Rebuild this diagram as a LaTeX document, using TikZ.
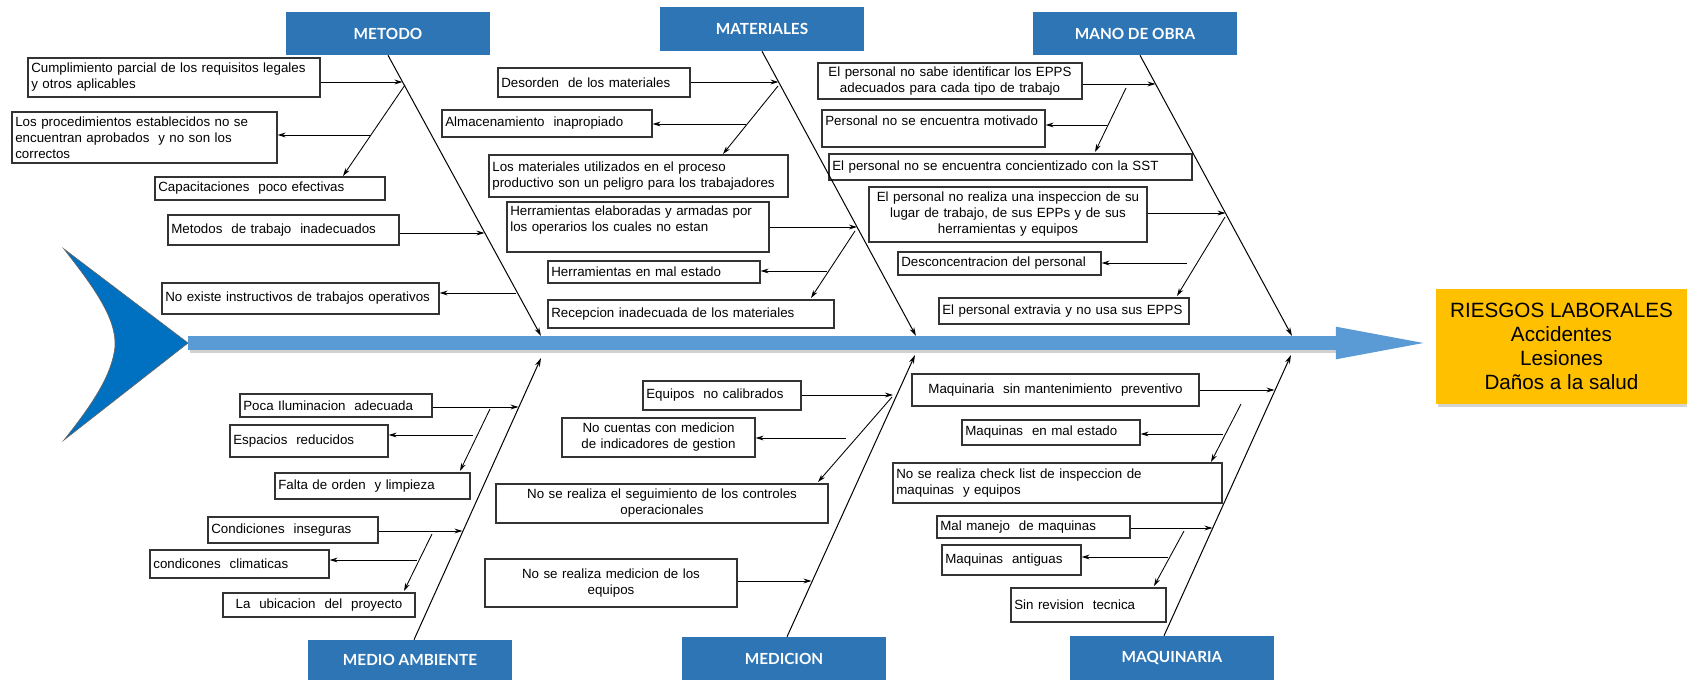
\documentclass[tikz,border=0pt]{standalone}
\usepackage{fontspec}
\setmainfont{Liberation Sans}
\newfontfamily\catfont{Lato}
\usetikzlibrary{arrows.meta,shadows}
\definecolor{catblue}{HTML}{2E75B6}
\definecolor{tailblue}{HTML}{0070C0}
\definecolor{spineblue}{HTML}{5B9BD5}
\definecolor{resorange}{HTML}{FFC000}
\tikzset{
  box/.style={draw=black!80, line width=0.9pt, fill=white, inner xsep=2.5pt, inner ysep=0.5pt,
    font=\fontsize{10}{12}\selectfont, align=left,
    execute at begin node={\hyphenpenalty=10000\exhyphenpenalty=10000}},
  cbox/.style={box, align=center},
  cat/.style={fill=catblue, text=white, minimum width=153pt, inner sep=0pt,
    font=\catfont\bfseries\fontsize{11.5}{13}\selectfont},
  bone/.style={line width=0.75pt, -{Stealth[length=6.5pt,width=3.8pt,inset=2pt]}},
  twig/.style={line width=0.65pt, -{Stealth[length=6pt,width=3.6pt,inset=2pt]}},
  spine/.style={line width=10.5pt, draw=spineblue, -{Triangle[length=75pt,width=21pt]}},
}
\begin{document}
\begin{tikzpicture}[x=0.75pt,y=-0.75pt]
\useasboundingbox (0,0) rectangle (1687,680);

% tail
\filldraw[fill=tailblue, draw=black!60, line width=0.5pt]
  (64,249) -- (188,343) -- (64,440)
  .. controls (92,405) and (112,375) .. (115,347)
  .. controls (117,318) and (92,285) .. (64,249) -- cycle;

% result box
\node[fill=resorange, minimum width=188.25pt, minimum height=86.25pt, inner sep=0pt,
  align=center, font=\fontsize{15.5}{18}\selectfont,
  drop shadow={shadow xshift=1.5pt, shadow yshift=-2.5pt, opacity=0.35}]
  (res) at (1561.5,346.5) {RIESGOS LABORALES\\Accidentes\\Lesiones\\Daños a la salud};

% spine
\coordinate (sp) at (188,343);
\draw[line width=10.5pt, black, opacity=0.18] (190,346) -- (1338,346);
\draw[spine] (sp) -- (sp -| res.west);

% category boxes
\node[cat, minimum height=32.25pt] (catMet) at (388,33.5) {METODO};
\node[cat, minimum height=33pt] (catMat) at (762,29) {MATERIALES};
\node[cat, minimum height=32.25pt] (catMO) at (1135,33.5) {MANO DE OBRA};
\node[cat, minimum height=30pt] (catMA) at (410,660) {MEDIO AMBIENTE};
\node[cat, minimum height=32.25pt] (catMe) at (784,658.5) {MEDICION};
\node[cat, minimum height=33pt] (catMq) at (1172,658) {MAQUINARIA};

% METODO boxes
\node[box, text width=214pt, minimum height=29.25pt] (met1) at (174,77.5)
  {Cumplimiento parcial de los requisitos legales\\y otros aplicables};
\node[box, text width=193.75pt, minimum height=38.25pt] (met2) at (144.5,137.5)
  {Los procedimientos establecidos no se\\encuentran aprobados\ \ y no son los\\correctos};
\node[box, text width=167.5pt, minimum height=17.25pt] (met3) at (270,188.5)
  {Capacitaciones\ \ poco efectivas};
\node[box, text width=168.25pt, minimum height=22.5pt] (met4) at (283.5,230)
  {Metodos\ \ de trabajo\ \ inadecuados};
\node[box, text width=202.75pt, minimum height=23.25pt] (met5) at (300.5,298.5)
  {No existe instructivos de trabajos operativos};

% MATERIALES boxes
\node[box, text width=139pt, minimum height=21.75pt] (mat1) at (594,82.5)
  {Desorden\ \ de los materiales};
\node[box, text width=152.5pt, minimum height=20.25pt] (mat2) at (547,123.5)
  {Almacenamiento\ \ inapropiado};
\node[box, text width=219.25pt, minimum height=31.5pt] (mat3) at (638.5,176)
  {Los materiales utilizados en el proceso\\productivo son un peligro para los trabajadores};
\node[box, text width=191.5pt, minimum height=37.5pt] (mat4) at (638,227)
  {Herramientas elaboradas y armadas por\\los operarios los cuales no estan\\\mbox{}};
\node[box, text width=154pt, minimum height=16.5pt] (mat5) at (654,272)
  {Herramientas en mal estado};
\node[box, text width=209.5pt, minimum height=21pt] (mat6) at (691,314)
  {Recepcion inadecuada de los materiales};

% MANO DE OBRA boxes
\node[cbox, text width=193pt, minimum height=27pt] (mo1) at (950,81)
  {El personal no sabe identificar los EPPS\\adecuados para cada tipo de trabajo};
\node[box, text width=162.25pt, minimum height=27.75pt] (mo2) at (933.5,128.5)
  {Personal no se encuentra motivado\\\mbox{}};
\node[box, text width=267.25pt, minimum height=19.5pt] (mo3) at (1010.5,167)
  {El personal no se encuentra concientizado con la SST};
\node[cbox, text width=203.5pt, minimum height=41.25pt] (mo4) at (1008,214.5)
  {El personal no realiza una inspeccion de su\\lugar de trabajo, de sus EPPs y de sus\\herramientas y equipos};
\node[box, text width=147.25pt, minimum height=17.25pt] (mo5) at (999.5,263.5)
  {Desconcentracion del personal};
\node[box, text width=182.5pt, minimum height=19.5pt] (mo6) at (1064,311)
  {El personal extravia y no usa sus EPPS};

% MEDIO AMBIENTE boxes
\node[box, text width=139pt, minimum height=17.25pt] (ma1) at (336,405.5)
  {Poca Iluminacion\ \ adecuada};
\node[box, text width=113.5pt, minimum height=24pt] (ma2) at (309,441)
  {Espacios\ \ reducidos};
\node[box, text width=141.25pt, minimum height=19.5pt] (ma3) at (372.5,486)
  {Falta de orden\ \ y limpieza};
\node[box, text width=122.5pt, minimum height=19.5pt] (ma4) at (293,530)
  {Condiciones\ \ inseguras};
\node[box, text width=129.25pt, minimum height=21pt] (ma5) at (239.5,564)
  {condicones\ \ climaticas};
\node[cbox, text width=139pt, minimum height=18pt] (ma6) at (319,605)
  {La\ \ ubicacion\ \ del\ \ proyecto};

% MEDICION boxes
\node[box, text width=113.5pt, minimum height=21.75pt] (me1) at (722,395.5)
  {Equipos\ \ no calibrados};
\node[cbox, text width=139.75pt, minimum height=29.25pt] (me2) at (658.5,437.5)
  {No cuentas con medicion\\de indicadores de gestion};
\node[cbox, text width=244pt, minimum height=29.25pt] (me3) at (662,503.5)
  {No se realiza el seguimiento de los controles\\operacionales};
\node[cbox, text width=184pt, minimum height=36pt] (me4) at (611,583)
  {No se realiza medicion de los\\equipos};

% MAQUINARIA boxes
\node[cbox, text width=210.25pt, minimum height=24pt] (mq1) at (1055.5,390)
  {Maquinaria\ \ sin mantenimiento\ \ preventivo};
\node[box, text width=128.5pt, minimum height=18.75pt] (mq2) at (1051,432.5)
  {Maquinas\ \ en mal estado};
\node[box, text width=241.75pt, minimum height=30pt] (mq3) at (1057.5,483)
  {No se realiza check list de inspeccion de\\maquinas\ \ y equipos};
\node[box, text width=139.75pt, minimum height=16.5pt] (mq4) at (1033.5,527)
  {Mal manejo\ \ de maquinas};
\node[box, text width=99.25pt, minimum height=22.5pt] (mq5) at (1011.5,560)
  {Maquinas\ \ antiguas};
\node[box, text width=111.25pt, minimum height=25.5pt] (mq6) at (1088.5,605)
  {Sin revision\ \ tecnica};

% ---- bones ----
\coordinate (metE) at (541,336);
\coordinate (matE) at (916,336);
\coordinate (moE) at (1292,336);
\coordinate (maE) at (541,358);
\coordinate (meE) at (915,355);
\coordinate (mqE) at (1291,355);
\draw[bone] (catMet.south) -- (metE);
\draw[bone] (catMat.south) -- (matE);
\draw[bone] ([xshift=3.75pt]catMO.south) -- (moE);
\draw[bone] ([xshift=3pt]catMA.north) -- (maE);
\draw[bone] ([xshift=2.25pt]catMe.north) -- (meE);
\draw[bone] ([xshift=-6pt]catMq.north) -- (mqE);

% METODO twigs
\coordinate (a1) at (402.5,82);
\coordinate (a2s) at (405,85);
\coordinate (a2e) at (343,176);
\coordinate (a3) at (371,135);
\coordinate (a4) at (484.5,233);
\coordinate (a5) at (516,293);
\draw[twig] (a1 -| met1.east) -- (a1);
\draw[twig] (a2s) -- (a2e);
\draw[twig] (a3) -- (a3 -| met2.east);
\draw[twig] (a4 -| met4.east) -- (a4);
\draw[twig] (a5) -- (a5 -| met5.east);

% MATERIALES twigs
\coordinate (b1) at (778.5,82);
\coordinate (b2s) at (778,86);
\coordinate (b2e) at (723,154);
\coordinate (b3) at (746,124);
\coordinate (b4) at (857,227);
\coordinate (b5s) at (855,231);
\coordinate (b5e) at (811,298);
\coordinate (b6) at (827,271);
\draw[twig] (b1 -| mat1.east) -- (b1);
\draw[twig] (b2s) -- (b2e);
\draw[twig] (b3) -- (b3 -| mat2.east);
\draw[twig] (b4 -| mat4.east) -- (b4);
\draw[twig] (b5s) -- (b5e);
\draw[twig] (b6) -- (b6 -| mat5.east);

% MANO DE OBRA twigs
\coordinate (c1) at (1155.5,84);
\coordinate (c2s) at (1126,88);
\coordinate (c2e) at (1095,152);
\coordinate (c3) at (1107,125);
\coordinate (c4) at (1225.5,213);
\coordinate (c5s) at (1225,217);
\coordinate (c5e) at (1177,296);
\coordinate (c6) at (1187,263);
\draw[twig] (c1 -| mo1.east) -- (c1);
\draw[twig] (c2s) -- (c2e);
\draw[twig] (c3) -- (c3 -| mo2.east);
\draw[twig] (c4 -| mo4.east) -- (c4);
\draw[twig] (c5s) -- (c5e);
\draw[twig] (c6) -- (c6 -| mo5.east);

% MEDIO AMBIENTE twigs
\coordinate (d1) at (518.5,407);
\coordinate (d2s) at (490,409);
\coordinate (d2e) at (460,471);
\coordinate (d3) at (473,435);
\coordinate (d4) at (462.5,531);
\coordinate (d5s) at (432,534);
\coordinate (d5e) at (404,591);
\coordinate (d6) at (417,560);
\draw[twig] (d1 -| ma1.east) -- (d1);
\draw[twig] (d2s) -- (d2e);
\draw[twig] (d3) -- (d3 -| ma2.east);
\draw[twig] (d4 -| ma4.east) -- (d4);
\draw[twig] (d5s) -- (d5e);
\draw[twig] (d6) -- (d6 -| ma5.east);

% MEDICION twigs
\coordinate (e1) at (893,395);
\coordinate (e2s) at (892,397);
\coordinate (e2e) at (818,482);
\coordinate (e3) at (846,438);
\coordinate (e4) at (811.5,581);
\draw[twig] (e1 -| me1.east) -- (e1);
\draw[twig] (e2s) -- (e2e);
\draw[twig] (e3) -- (e3 -| me2.east);
\draw[twig] (e4 -| me4.east) -- (e4);

% MAQUINARIA twigs
\coordinate (f1) at (1274.5,390);
\coordinate (f2s) at (1241,404);
\coordinate (f2e) at (1211,462);
\coordinate (f3) at (1223,434);
\coordinate (f4) at (1212.5,528);
\coordinate (f5s) at (1184,531);
\coordinate (f5e) at (1154,586);
\coordinate (f6) at (1168,557);
\draw[twig] (f1 -| mq1.east) -- (f1);
\draw[twig] (f2s) -- (f2e);
\draw[twig] (f3) -- (f3 -| mq2.east);
\draw[twig] (f4 -| mq4.east) -- (f4);
\draw[twig] (f5s) -- (f5e);
\draw[twig] (f6) -- (f6 -| mq5.east);
\end{tikzpicture}
\end{document}
